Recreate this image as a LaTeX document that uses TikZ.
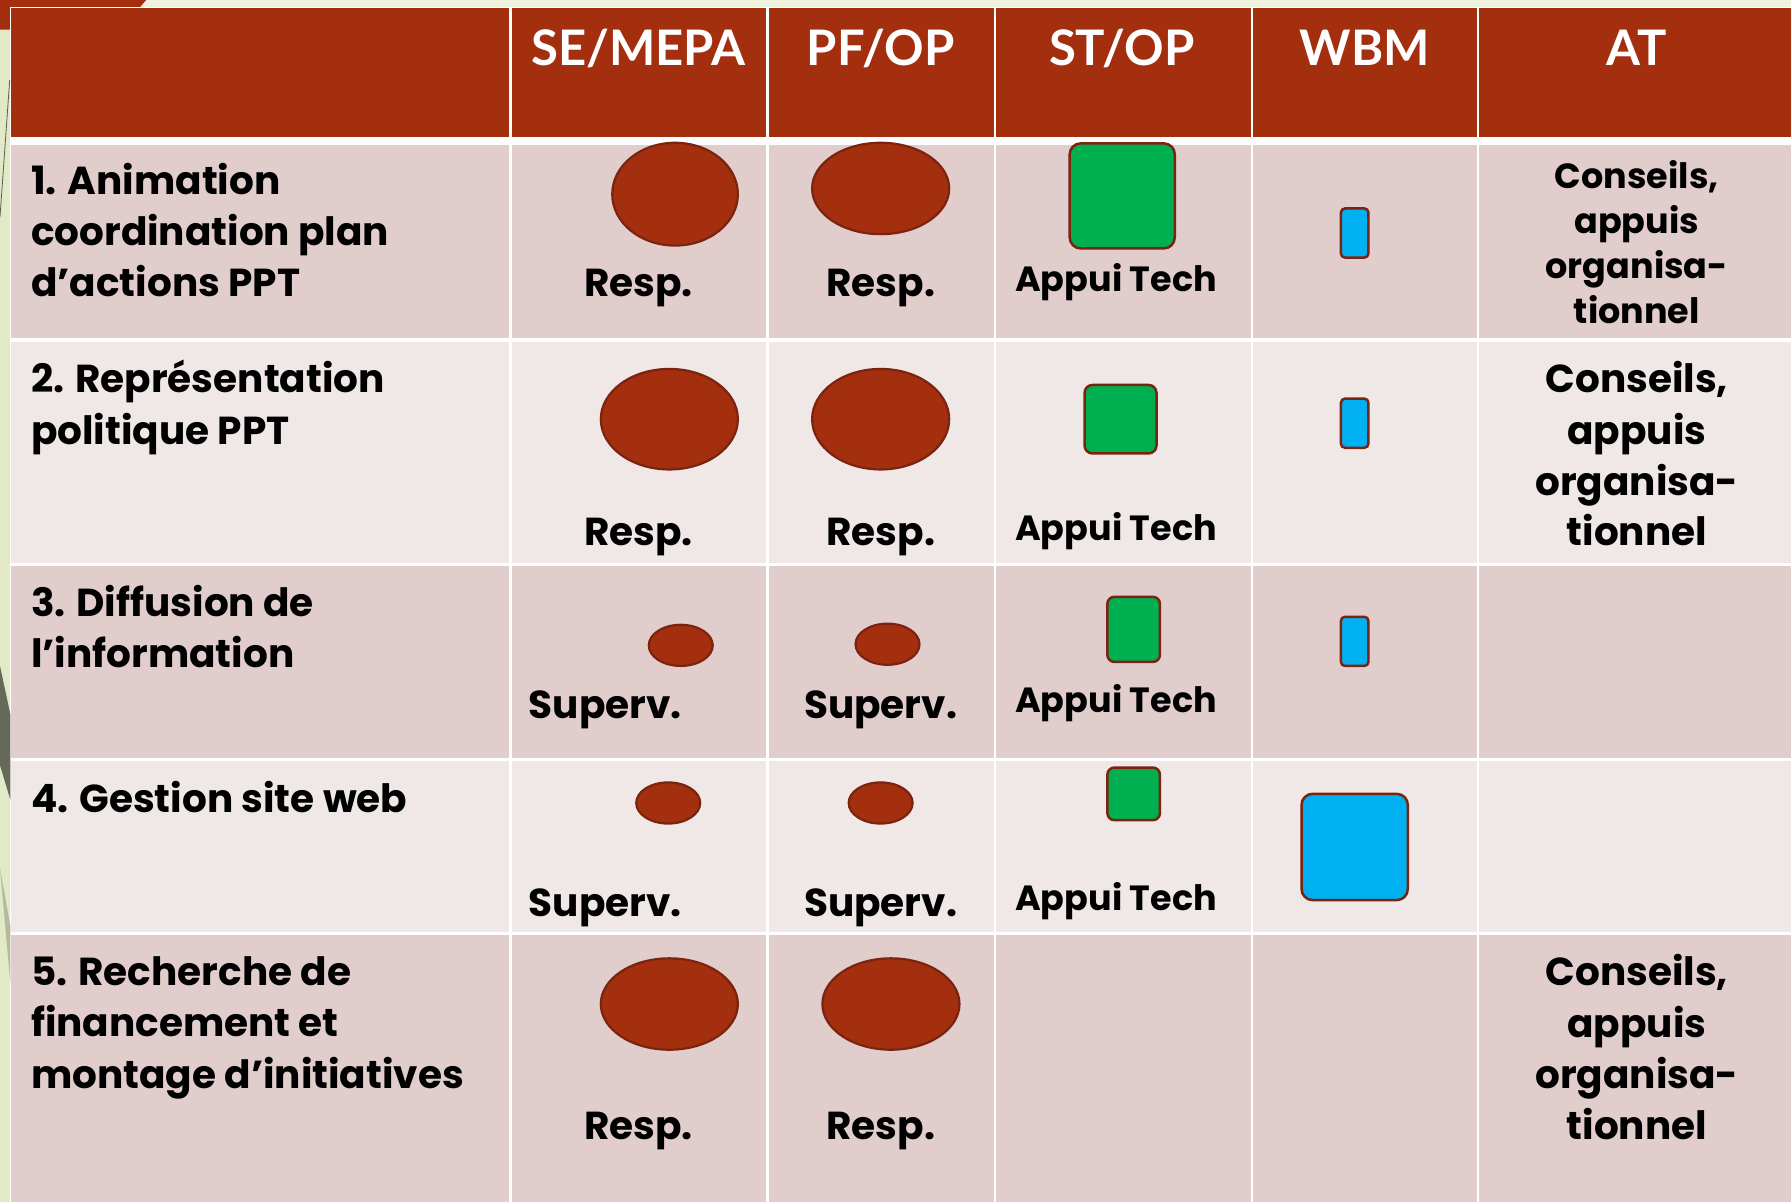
\documentclass[tikz,border=0pt]{standalone}
\usepackage{fontspec}
\setmainfont{Poppins}
\newfontfamily\headfont{Lato}
\usetikzlibrary{shapes.geometric}
\definecolor{brick}{HTML}{A32F0E}
\definecolor{edgeb}{HTML}{7A2410}
\definecolor{rowa}{HTML}{E1CDCC}
\definecolor{rowb}{HTML}{F0E8E7}
\definecolor{gr}{HTML}{00B050}
\definecolor{bl}{HTML}{00B0F0}
\definecolor{bgl}{HTML}{E2E9C7}
\definecolor{bgt}{HTML}{EEF2E0}
\tikzset{
 x=1.14222pt,y=-1.14222pt,
 head/.style={anchor=base,text=white,font=\headfont\bfseries\fontsize{49}{49}\selectfont,inner sep=0pt},
 lab/.style={anchor=base west,text=black,font=\bfseries\fontsize{39}{39}\selectfont,inner sep=0pt},
 val/.style={anchor=base,text=black,font=\bfseries\fontsize{39}{39}\selectfont,inner sep=0pt},
 app/.style={anchor=base,text=black,font=\bfseries\fontsize{35}{35}\selectfont,inner sep=0pt},
 small/.style={anchor=base,text=black,font=\bfseries\fontsize{35}{35}\selectfont,inner sep=0pt},
 ell/.style={ellipse,draw=edgeb,fill=brick,line width=2.2pt,inner sep=0pt},
 gbox/.style={rectangle,rounded corners=11pt,draw=edgeb,fill=gr,line width=2.5pt,inner sep=0pt},
 bbox/.style={rectangle,rounded corners=4pt,draw=edgeb,fill=bl,line width=2.5pt,inner sep=0pt},
}
\newcommand{\shp}[6]{\node[#1,minimum width=#4*2.28444pt,minimum height=#5*2.28444pt] (#6) at (#2,#3) {};}
\newcommand{\boxn}[6]{\node[#1,minimum width=#4*1.14222pt,minimum height=#5*1.14222pt] (#6) at (#2,#3) {};}
\begin{document}
\begin{tikzpicture}
\useasboundingbox (0,0) rectangle (1568,1052.35);
% background
\fill[bgl] (0,0) rectangle (1568,1052.35);
\fill[bgt] (0,0) rectangle (1568,7);
\fill[brick] (0,0) -- (128,0) -- (122,7) -- (9,7) -- (9,26) -- (0,26) -- cycle;
\fill[white] (9,6) rectangle (1568,1052.35);
\draw[line width=.8pt,black!60!bgl] (8.5,70) -- (0,190);
\fill[black!55!bgl] (0,583) -- (9,625) -- (9,700) -- (0,670) -- cycle;
\fill[black!20!bgl] (0,760) -- (9,810) -- (9,860) -- cycle;
% cells
\def\cols{10/446,448/671,673/870,872/1095,1097/1293,1295/1568}
\foreach \a/\b in \cols {
  \fill[brick] (\a,7) rectangle (\b,120);
  \fill[rowa]  (\a,127) rectangle (\b,296);
  \fill[rowb]  (\a,299) rectangle (\b,493);
  \fill[rowa]  (\a,495.5) rectangle (\b,664);
  \fill[rowb]  (\a,666.5) rectangle (\b,816);
  \fill[rowa]  (\a,818.5) rectangle (\b,1052.35);
}
% header
\node[head] (h1) at (559,57) {SE/MEPA};
\node[head] (h2) at (771,57) {PF/OP};
\node[head] (h3) at (982,57) {ST/OP};
\node[head] (h4) at (1195,57) {WBM};
\node[head] (h5) at (1433,57) {AT};
% row labels
\node[lab] (l1a) at (27,170) {1. Animation};
\node[lab] (l1b) at (27,215) {coordination plan};
\node[lab] (l1c) at (27,260) {d’actions PPT};
\node[lab] (l2a) at (27,344) {2. Représentation};
\node[lab] (l2b) at (27,389) {politique PPT};
\node[lab] (l3a) at (27,540) {3. Diffusion de};
\node[lab] (l3b) at (27,584) {l’information};
\node[lab] (l4a) at (27,711) {4. Gestion site web};
\node[lab] (l5a) at (27,863) {5. Recherche de};
\node[lab] (l5b) at (27,907) {financement et};
\node[lab] (l5c) at (27,953) {montage d’initiatives};
% ellipses
\shp{ell}{591}{170}{55}{45}{e11}
\shp{ell}{771}{165}{60}{40}{e12}
\shp{ell}{586}{367}{60}{44}{e21}
\shp{ell}{771}{367}{60}{44}{e22}
\shp{ell}{596}{565}{28}{18}{e31}
\shp{ell}{777}{564}{28}{18}{e32}
\shp{ell}{585}{703}{28}{18}{e41}
\shp{ell}{771}{703}{28}{18}{e42}
\shp{ell}{586}{879}{60}{40}{e51}
\shp{ell}{780}{879}{60}{40}{e52}
% green
\boxn{gbox}{982.5}{171.5}{92}{92}{g1}
\boxn{gbox,rounded corners=8pt}{981}{367}{63}{60}{g2}
\boxn{gbox,rounded corners=7pt}{992.5}{551}{46}{57}{g3}
\boxn{gbox,rounded corners=7pt}{992.5}{695}{46}{46}{g4}
% blue
\boxn{bbox}{1186}{204}{24}{43}{b1}
\boxn{bbox}{1186}{370.5}{24}{43}{b2}
\boxn{bbox}{1186}{561.5}{24}{43}{b3}
\boxn{bbox,rounded corners=11pt}{1186}{741.5}{93}{93}{b4}
% responsibilities
\node[val] (r11) at (559,260) {Resp.};
\node[val] (r12) at (771,260) {Resp.};
\node[val] (r21) at (559,478) {Resp.};
\node[val] (r22) at (771,478) {Resp.};
\node[val] (r31) at (530,629) {Superv.};
\node[val] (r32) at (771,629) {Superv.};
\node[val] (r41) at (530,802) {Superv.};
\node[val] (r42) at (771,802) {Superv.};
\node[val] (r51) at (559,998) {Resp.};
\node[val] (r52) at (771,998) {Resp.};
\node[app] (a1) at (977,255) {Appui Tech};
\node[app] (a2) at (977,473) {Appui Tech};
\node[app] (a3) at (977,624) {Appui Tech};
\node[app] (a4) at (977,797) {Appui Tech};
% AT
\node[small] (t1a) at (1433,165) {Conseils,};
\node[small] (t1b) at (1433,204) {appuis};
\node[small] (t1c) at (1433,244) {organisa-};
\node[small] (t1d) at (1433,283) {tionnel};
\node[val] (t2a) at (1433,344) {Conseils,};
\node[val] (t2b) at (1433,389) {appuis};
\node[val] (t2c) at (1433,434) {organisa-};
\node[val] (t2d) at (1433,478) {tionnel};
\node[val] (t5a) at (1433,863) {Conseils,};
\node[val] (t5b) at (1433,908) {appuis};
\node[val] (t5c) at (1433,953) {organisa-};
\node[val] (t5d) at (1433,998) {tionnel};
\end{tikzpicture}
\end{document}
